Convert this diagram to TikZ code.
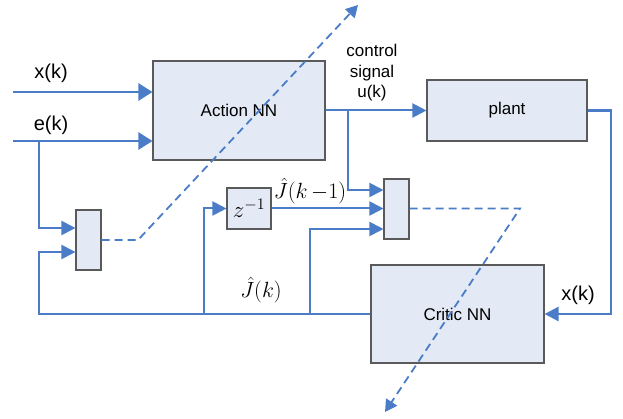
\RequirePackage{fix-cm}
\documentclass[tikz,border=0pt]{standalone}
\usepackage[no-math]{fontspec}
\setmainfont{Liberation Sans}
\usepackage{tikz}
\usetikzlibrary{positioning, arrows.meta}
\definecolor{sigblue}{HTML}{4A7CC7}
\definecolor{boxfill}{HTML}{E3EAF6}
\definecolor{boxedge}{HTML}{5A5A5A}

\begin{document}
\begin{tikzpicture}[x=1pt, y=-1pt,
    block/.style={draw=boxedge, fill=boxfill, line width=1.1pt, inner sep=0pt,
                  font=\fontsize{17}{20}\selectfont},
    wire/.style={draw=sigblue, line width=2pt, -{Triangle[length=14pt, width=14pt]}},
    feed/.style={wire, line width=2.6pt, -{Triangle[length=14pt, width=17pt]}},
    adapt/.style={draw=sigblue, line width=1.8pt, dash pattern=on 8pt off 5pt,
                  -{Triangle[length=12pt, width=13pt]}},
    lbl/.style={font=\fontsize{20}{22}\selectfont, inner sep=0pt},
    mlbl/.style={font=\fontsize{22}{24}\selectfont, inner sep=0pt}]
  \useasboundingbox (0,0) rectangle (623,419);

  % blocks
  \node[block, minimum width=172pt, minimum height=99pt] (action) at (239,110.5) {Action NN};
  \node[block, minimum width=160pt, minimum height=61pt] (plant) at (507,110.5) {plant};
  \node[block, minimum width=173pt, minimum height=98pt] (critic) at (457.5,314) {Critic NN};
  \node[block, minimum width=25pt, minimum height=60pt] (mixL) at (88.5,240) {};
  \node[block, minimum width=44pt, minimum height=41pt, font=\fontsize{23}{25}\selectfont] (delay) at (249,208.5) {$z^{-1}$};
  \node[block, minimum width=25pt, minimum height=60pt] (mixR) at (396.5,209) {};

  % inputs
  \coordinate (xin) at (13,92);
  \coordinate (ein) at (13,141);
  \draw[feed] (xin) -- (xin -| action.west);
  \draw[feed] (ein) -- (ein -| action.west);
  \node[lbl] (xlbl) at (51,73) {x(k)};
  \node[lbl] (elbl) at (51,125) {e(k)};

  % error branch into the left mixer
  \coordinate (eb) at (39,141);
  \draw[wire] (eb) |- ([yshift=12pt]mixL.west);

  % control signal
  \draw[wire] (action.east) -- (plant.west);
  \node[align=center, font=\fontsize{17}{20.5}\selectfont] (ulbl) at (372,73) {control\\signal\\u(k)};
  \coordinate (ub) at (348,110.5);
  \draw[wire] (ub) |- ([yshift=19pt]mixR.west);

  % plant state back to the critic
  \coordinate (pc) at (611,314);
  \draw[wire, line width=2.4pt] (plant.east) -| (pc) -- (critic.east);
  \node[lbl] (xklbl) at (578,295) {x(k)};

  % critic output J(k)
  \coordinate (fbl) at (39,314);
  \coordinate (jd) at (204,314);
  \coordinate (jr) at (310,314);
  \draw[wire] (critic.west) -- (fbl) |- ([yshift=-12pt]mixL.west);
  \draw[wire] (jd) |- (delay.west);
  \draw[wire] (jr) |- ([yshift=-20pt]mixR.west);
  \draw[wire] (delay.east) -- (delay.east -| mixR.west);
  \node[mlbl] (jk) at (261,290) {$\hat{J}\bigl(k\bigr)$};
  \node[mlbl] (jk1) at (310,191) {$\hat{J}\bigl(k\,{-}1\bigr)$};

  % weight tuning paths
  \coordinate (ta) at (138,240);
  \coordinate (tb) at (358,5);
  \draw[adapt] (mixL.east) -- (ta) -- (tb);
  \coordinate (tc) at (520,208.5);
  \coordinate (td) at (385,412);
  \draw[adapt] (mixR.east |- tc) -- (tc) -- (td);
\end{tikzpicture}
\end{document}
